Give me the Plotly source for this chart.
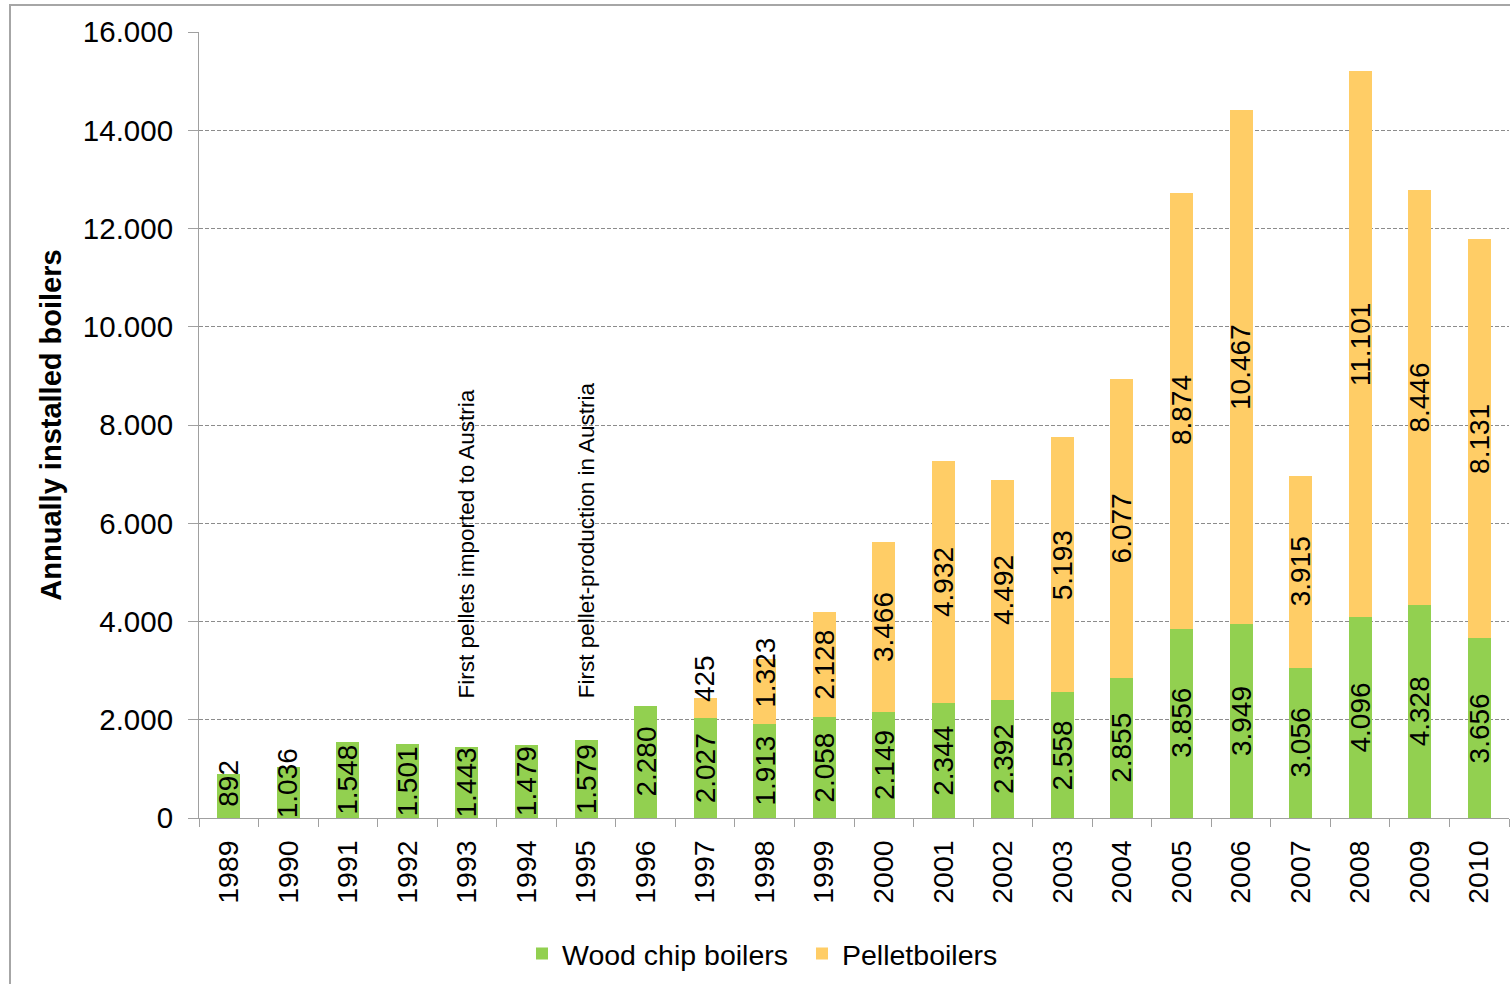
import plotly.graph_objects as go

years = [str(y) for y in range(1989, 2011)]
wood_chip = [892, 1036, 1548, 1501, 1443, 1479, 1579, 2280, 2027, 1913, 2058,
             2149, 2344, 2392, 2558, 2855, 3856, 3949, 3056, 4096, 4328, 3656]
pellet = [0, 0, 0, 0, 0, 0, 0, 0, 425, 1323, 2128,
          3466, 4932, 4492, 5193, 6077, 8874, 10467, 3915, 11101, 8446, 8131]
y_ticks = [0, 2000, 4000, 6000, 8000, 10000, 12000, 14000, 16000]
notes = [("1993", "First pellets imported to Austria"),
         ("1995", "First pellet-production in Austria")]
note_y = 2400

GREEN = "#92D050"
YELLOW = "#FFCD66"
FONT = "Liberation Sans, Arial, sans-serif"
W, H = 1510, 984
M = dict(l=199, r=1, t=32, b=166)
YMAX = 16000
LABEL_SIZE = 28


def fmt(v):
    return f"{v:,}".replace(",", ".")


def label_len_px(s):
    return sum(0.278 if c == "." else 0.556 for c in s) * LABEL_SIZE


ppu = (H - M["t"] - M["b"]) / YMAX
min_center = max(label_len_px(fmt(w)) for w in wood_chip) / 2 / ppu

fig = go.Figure()
fig.add_trace(go.Bar(x=years, y=wood_chip, name="Wood chip boilers",
                     marker=dict(color=GREEN, line=dict(width=0))))
fig.add_trace(go.Bar(x=years, y=pellet, name="Pelletboilers",
                     marker=dict(color=YELLOW, line=dict(width=0))))

annotations = []
for i, (w, p) in enumerate(zip(wood_chip, pellet)):
    s = fmt(w)
    annotations.append(dict(x=i, y=max(w / 2, min_center), text=s, textangle=-90,
                            showarrow=False, xref="x", yref="y",
                            yanchor="middle",
                            font=dict(family=FONT, size=LABEL_SIZE, color="black")))
    if p > 0:
        s = fmt(p)
        if p * ppu >= label_len_px(s):
            annotations.append(dict(x=i, y=w + p / 2, text=s, textangle=-90,
                                    showarrow=False, yanchor="middle",
                                    font=dict(family=FONT, size=LABEL_SIZE, color="black")))
        else:
            annotations.append(dict(x=i, y=w, text=s, textangle=-90,
                                    showarrow=False, yanchor="bottom", yshift=14,
                                    font=dict(family=FONT, size=LABEL_SIZE, color="black")))

for yr, txt in notes:
    annotations.append(dict(x=years.index(yr), y=note_y, text=txt, textangle=-90,
                            showarrow=False, yanchor="bottom",
                            font=dict(family=FONT, size=22.5, color="black")))

fig.update_layout(
    width=W, height=H, margin=M,
    barmode="stack", bargap=0.614,
    paper_bgcolor="white", plot_bgcolor="white",
    separators=",.",
    font=dict(family=FONT, size=28, color="black"),
    annotations=annotations,
    showlegend=True,
    legend=dict(orientation="h", x=(522 - 199) / 1310, xanchor="left",
                y=(818 - 954) / 786, yanchor="middle", traceorder="normal",
                entrywidth=235,
                font=dict(family=FONT, size=28.5, color="black"),
                bgcolor="rgba(0,0,0,0)", itemclick=False),
    shapes=[dict(type="rect", xref="paper", yref="paper",
                 x0=(10 - 199) / 1310, x1=1.05, y0=-0.3, y1=1 + 27 / 786,
                 line=dict(color="#A6A6A6", width=2), fillcolor="rgba(0,0,0,0)",
                 layer="below")],
)
fig.update_xaxes(type="category", range=[-0.5, len(years) - 0.5],
                 showline=True, linecolor="#A0A0A0", linewidth=1,
                 ticks="outside", tickson="boundaries", ticklen=8, tickcolor="#A0A0A0",
                 tickangle=-90, tickfont=dict(family=FONT, size=28.5, color="black"),
                 ticklabelstandoff=10,
                 showgrid=False, zeroline=False)
fig.update_yaxes(range=[0, YMAX], tickvals=y_ticks, tickformat=",d",
                 showline=True, linecolor="#A0A0A0", linewidth=1,
                 ticks="outside", ticklen=10, tickcolor="#A0A0A0",
                 tickfont=dict(family=FONT, size=29.5, color="black"),
                 ticklabelstandoff=9,
                 showgrid=True, gridcolor="#8C8C8C", griddash="4px,2px", gridwidth=1,
                 zeroline=False,
                 title=dict(text="<b>Annually installed boilers</b>",
                            font=dict(family=FONT, size=29, color="black"), standoff=12))

fig.write_html("out.html")
